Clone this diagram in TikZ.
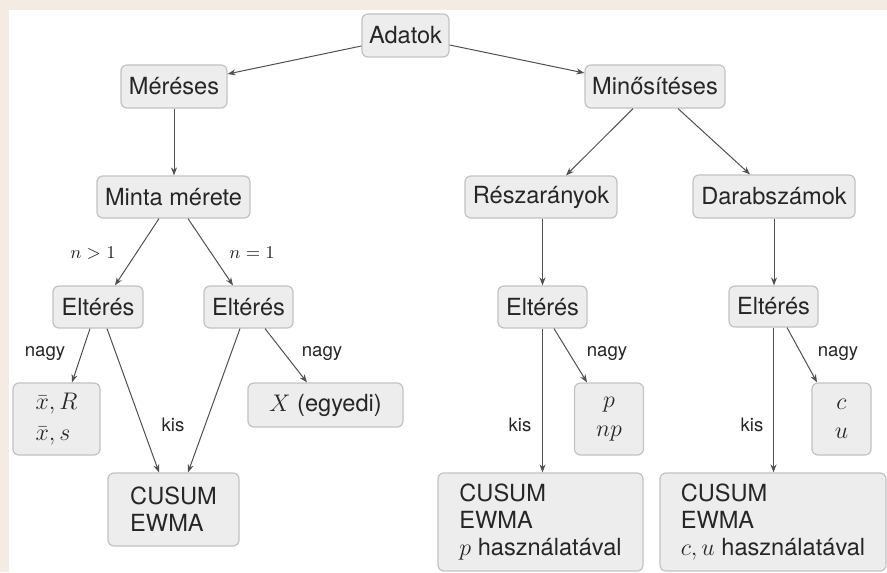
\documentclass[tikz,border=0pt]{standalone}
\usepackage[no-math]{fontspec}
\setmainfont{TeX Gyre Heros}
\usetikzlibrary{arrows.meta}
\definecolor{bgbeige}{HTML}{F4ECE3}
\definecolor{boxfill}{HTML}{EDEDED}
\definecolor{boxline}{HTML}{C2C2C2}
\definecolor{linec}{HTML}{505050}
\definecolor{txt}{HTML}{262626}
\tikzset{
  box/.style={draw=boxline, fill=boxfill, rounded corners=3pt, line width=0.6pt, inner sep=0pt, text=txt, font=\fontsize{11.8}{13.4}\selectfont},
  conn/.style={draw=linec, line width=0.5pt, -{Stealth[length=4pt,width=3pt]}},
  lab/.style={inner sep=0pt, text=txt, font=\fontsize{9.3}{11}\selectfont}
}
\begin{document}
\begin{tikzpicture}[x=0.5pt,y=-0.5pt]
\useasboundingbox (0,0) rectangle (887,572);
\fill[bgbeige] (0,0) rectangle (887,572);
\fill[white] (9,10) rectangle (887,572);

% nodes
\node[box, minimum width=43.5pt, minimum height=21.5pt] (ad) at (405.5,35.5) {Adatok};
\node[box, minimum width=53pt, minimum height=21.5pt] (mer) at (174,86.5) {Méréses};
\node[box, minimum width=70pt, minimum height=21.5pt] (min) at (655,86.5) {Minősítéses};
\node[box, minimum width=76.5pt, minimum height=21pt] (minta) at (173.5,197) {Minta mérete};
\node[box, minimum width=45pt, minimum height=21pt] (elL) at (98,307) {Eltérés};
\node[box, minimum width=44.5pt, minimum height=21pt] (elM) at (248.5,307) {Eltérés};
\node[box, minimum width=76pt, minimum height=21pt] (resz) at (541,197) {Részarányok};
\node[box, minimum width=81pt, minimum height=21.5pt] (darab) at (774,196.5) {Darabszámok};
\node[box, minimum width=44.5pt, minimum height=21pt] (elR1) at (542.5,307) {Eltérés};
\node[box, minimum width=44.5pt, minimum height=20.5pt] (elR2) at (773.5,306.5) {Eltérés};
\node[box, minimum width=43.5pt, minimum height=36pt, align=left] (xb) at (56.5,419) {$\bar{x},R$\\[2pt]$\bar{x},s$};
\node[box, minimum width=77.5pt, minimum height=22pt] (X) at (325.5,405) {$X$ (egyedi)};
\node[box, minimum width=65.5pt, minimum height=36.5pt, align=left] (cusL) at (173.5,509.5) {CUSUM\\EWMA};
\node[box, minimum width=34.5pt, minimum height=36pt, align=center] (pb) at (609,419) {$p$\\[1pt]$np$};
\node[box, minimum width=29.5pt, minimum height=36pt, align=center] (cb) at (841.5,419) {$c$\\[1pt]$u$};
\node[box, minimum width=102.5pt, minimum height=49pt, align=left] (cusP) at (540.5,522) {CUSUM\\EWMA\\$p$ használatával};
\node[box, minimum width=113pt, minimum height=49pt, align=left] (cusC) at (773,522) {CUSUM\\EWMA\\$c,u$ használatával};

% connectors
\draw[conn] ([yshift=-5.25pt]ad.west) -- ([yshift=6.25pt]mer.east);
\draw[conn] ([yshift=-4.75pt]ad.east) -- ([yshift=6.75pt]min.west);
\draw[conn] (mer.south) -- (mer.south |- minta.north);
\draw[conn] ([xshift=-7.25pt]minta.south) -- ([xshift=8.5pt]elL.north);
\draw[conn] ([xshift=7.25pt]minta.south) -- ([xshift=-7.75pt]elM.north);
\draw[conn] ([xshift=-4pt]elL.south) -- ([xshift=7.75pt]xb.north);
\draw[conn] ([xshift=4.5pt]elL.south) -- ([xshift=-7.25pt]cusL.north);
\draw[conn] ([xshift=-4.25pt]elM.south) -- ([xshift=7.25pt]cusL.north);
\draw[conn] ([xshift=8.25pt]elM.south) -- ([xshift=-9.25pt]X.north);
\draw[conn] ([xshift=-11pt]min.south) -- ([xshift=12.5pt]resz.north);
\draw[conn] ([xshift=11.5pt]min.south) -- ([xshift=-12pt]darab.north);
\draw[conn] (elR1.north |- resz.south) -- (elR1.north);
\draw[conn] (darab.south) -- (darab.south |- elR2.north);
\draw[conn] (elR1.south) -- (elR1.south |- cusP.north);
\draw[conn] ([xshift=5.75pt]elR1.south) -- ([xshift=-11pt]pb.north);
\draw[conn] (elR2.south) -- (elR2.south |- cusC.north);
\draw[conn] ([xshift=6.75pt]elR2.south) -- ([xshift=-12.25pt]cb.north);

% labels
\node[lab] (l1) at (93,253) {$n>1$};
\node[lab] (l2) at (252,253) {$n=1$};
\node[lab] (l3) at (45,354) {nagy};
\node[lab] (l4) at (173,425) {kis};
\node[lab] (l5) at (322,354) {nagy};
\node[lab] (l6) at (607,354) {nagy};
\node[lab] (l7) at (520,425) {kis};
\node[lab] (l8) at (838,354) {nagy};
\node[lab] (l9) at (752,425) {kis};
\end{tikzpicture}
\end{document}
